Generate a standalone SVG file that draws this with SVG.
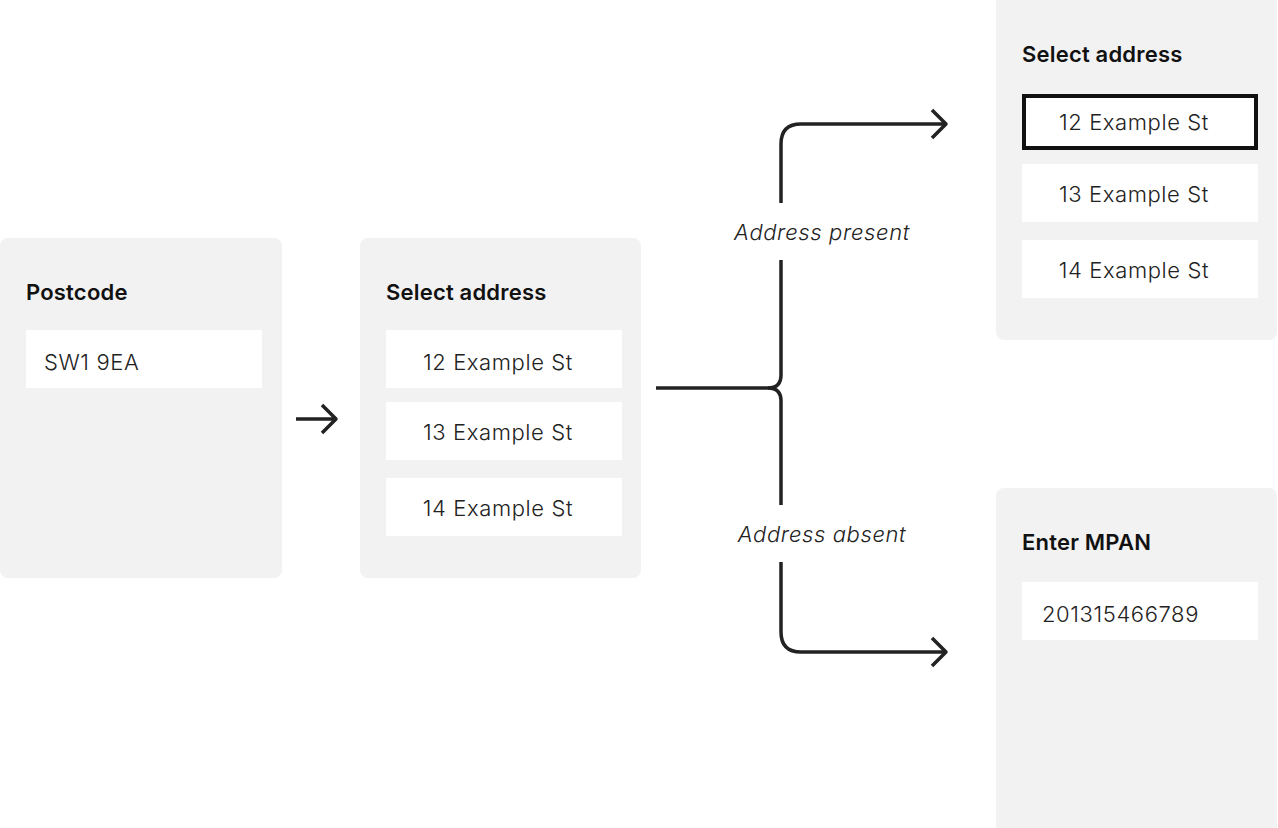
<svg xmlns="http://www.w3.org/2000/svg" width="1278" height="828" viewBox="0 0 1278 828">
<style>
.card{fill:#f2f2f2}
.field{fill:#fff}
.h{font-family:Inter,"Liberation Sans",sans-serif;font-size:22px;font-weight:600;fill:#111;letter-spacing:0.2px}
.t{font-family:Inter,"Liberation Sans",sans-serif;font-size:22px;font-weight:300;fill:#222;letter-spacing:0.6px}
.l{font-family:Inter,"Liberation Sans",sans-serif;font-size:22px;font-weight:300;font-style:italic;fill:#222;letter-spacing:0.6px}
.c{fill:none;stroke:#222;stroke-width:3.5;stroke-linecap:butt;stroke-linejoin:round}
</style>
<rect width="1278" height="828" fill="#fff"/>
<g id="postcode">
<rect class="card" x="0" y="238" width="282" height="340" rx="8"/>
<text class="h" x="26" y="300">Postcode</text>
<rect class="field" x="26" y="330" width="236" height="58"/>
<text class="t" x="44" y="370">SW1 9EA</text>
</g>
<g id="select1">
<rect class="card" x="360" y="238" width="281" height="340" rx="8"/>
<text class="h" x="386" y="300">Select address</text>
<rect class="field" x="386" y="330" width="236" height="58"/>
<text class="t" x="498" y="370" text-anchor="middle">12 Example St</text>
<rect class="field" x="386" y="402" width="236" height="58"/>
<text class="t" x="498" y="440" text-anchor="middle">13 Example St</text>
<rect class="field" x="386" y="478" width="236" height="58"/>
<text class="t" x="498" y="516" text-anchor="middle">14 Example St</text>
</g>
<g id="select2">
<rect class="card" x="996" y="-10" width="281" height="350" rx="8"/>
<text class="h" x="1022" y="62">Select address</text>
<rect class="field" x="1024" y="96" width="232" height="52" stroke="#111" stroke-width="4"/>
<text class="t" x="1134" y="130" text-anchor="middle">12 Example St</text>
<rect class="field" x="1022" y="164" width="236" height="58"/>
<text class="t" x="1134" y="202" text-anchor="middle">13 Example St</text>
<rect class="field" x="1022" y="240" width="236" height="58"/>
<text class="t" x="1134" y="278" text-anchor="middle">14 Example St</text>
</g>
<g id="mpan">
<rect class="card" x="996" y="488" width="281" height="350" rx="8"/>
<text class="h" x="1022" y="550">Enter MPAN</text>
<rect class="field" x="1022" y="582" width="236" height="58"/>
<text class="t" x="1042" y="622">201315466789</text>
</g>
<g id="connectors">
<path class="c" d="M296 419H336M322 405L336 419L322 433"/>
<path class="c" d="M656 388H768Q781 388 781 375V260"/>
<path class="c" d="M781 203V144Q781 124 801 124H946M932 110L946 124L932 138"/>
<path class="c" d="M768 388Q781 388 781 401V505"/>
<path class="c" d="M781 562V632Q781 652 801 652H946M932 638L946 652L932 666"/>
<text class="l" x="822" y="240" text-anchor="middle">Address present</text>
<text class="l" x="822" y="542" text-anchor="middle">Address absent</text>
</g>
</svg>
